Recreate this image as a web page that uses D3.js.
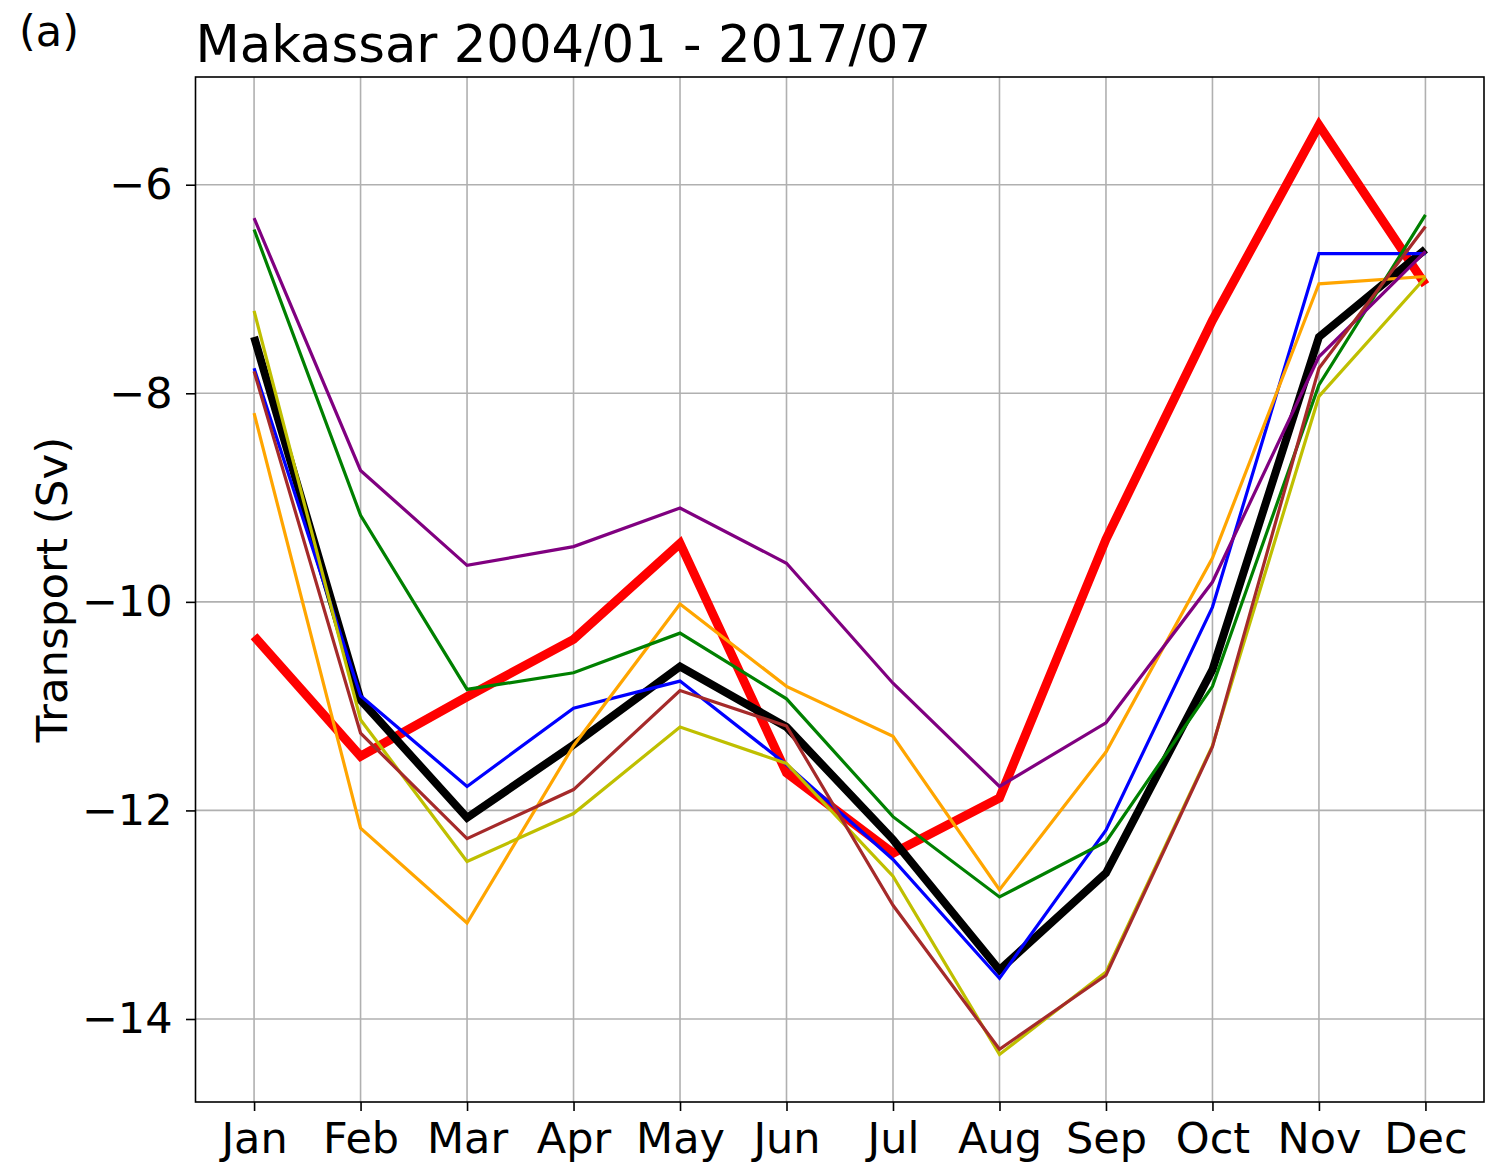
<!DOCTYPE html>
<html><head><meta charset="utf-8">
<script src="https://cdnjs.cloudflare.com/ajax/libs/d3/7.8.5/d3.min.js"></script>
<style>body{margin:0;background:#fff}svg{display:block}text{font-family:"DejaVu Sans",sans-serif;fill:#000}</style>
</head><body>
<script>
const months = ["Jan","Feb","Mar","Apr","May","Jun","Jul","Aug","Sep","Oct","Nov","Dec"];
const yTicks = [-14,-12,-10,-8,-6];
const title = "Makassar 2004/01 - 2017/07";
const panelLabel = "(a)";
const yLabel = "Transport (Sv)";

const redVals    = [-10.33,-11.48,-10.91,-10.36,-9.44,-11.64,-12.41,-11.88,-9.40,-7.30,-5.43,-6.96];
const blackVals  = [-7.46,-10.94,-12.07,-11.37,-10.62,-11.20,-12.28,-13.53,-12.60,-10.65,-7.46,-6.62];
const blueVals   = [-7.76,-10.90,-11.77,-11.02,-10.76,-11.56,-12.47,-13.61,-12.19,-10.05,-6.66,-6.66];
const orangeVals = [-8.19,-12.17,-13.08,-11.38,-10.02,-10.81,-11.29,-12.76,-11.44,-9.58,-6.95,-6.88];
const yellowVals = [-7.21,-11.13,-12.49,-12.03,-11.20,-11.55,-12.63,-14.34,-13.55,-11.38,-8.03,-6.89];
const greenVals  = [-6.43,-9.17,-10.84,-10.68,-10.30,-10.93,-12.06,-12.83,-12.30,-10.81,-7.92,-6.29];
const purpleVals = [-6.32,-8.74,-9.65,-9.47,-9.10,-9.63,-10.78,-11.77,-11.16,-9.81,-7.65,-6.64];
const brownVals  = [-7.79,-11.26,-12.27,-11.80,-10.85,-11.19,-12.91,-14.29,-13.58,-11.39,-7.76,-6.40];

const series = [
  {vals: redVals, color: "#ff0000", w: 9},
  {vals: blackVals, color: "#000000", w: 8},
  {vals: blueVals, color: "#0000ff", w: 3.2},
  {vals: orangeVals, color: "#ffa500", w: 3.2},
  {vals: yellowVals, color: "#bfbf00", w: 3.2},
  {vals: greenVals, color: "#008000", w: 3.2},
  {vals: purpleVals, color: "#800080", w: 3.2},
  {vals: brownVals, color: "#a52a2a", w: 3.2}
];

const W = 1485, H = 1165;
const L = 195.5, R = 1484, T = 77, B = 1102;
const svg = d3.select("body").append("svg").attr("width", W).attr("height", H);

const x = d3.scaleLinear().domain([-0.55, 11.55]).range([L, R]);
const y = d3.scaleLinear().domain([-14.796, -4.967]).range([B, T]);

// grid
const g = svg.append("g");
g.selectAll("line.vg").data(months).enter().append("line")
  .attr("x1", (d,i)=>x(i)).attr("x2", (d,i)=>x(i)).attr("y1", T).attr("y2", B)
  .attr("stroke", "#b0b0b0").attr("stroke-width", 1.6);
g.selectAll("line.hg").data(yTicks).enter().append("line")
  .attr("x1", L).attr("x2", R).attr("y1", d=>y(d)).attr("y2", d=>y(d))
  .attr("stroke", "#b0b0b0").attr("stroke-width", 1.6);

// lines
svg.append("clipPath").attr("id","clip").append("rect")
  .attr("x", L).attr("y", T).attr("width", R-L).attr("height", B-T);
const line = d3.line().x((d,i)=>x(i)).y(d=>y(d));
svg.append("g").attr("clip-path","url(#clip)").selectAll("path").data(series).enter().append("path")
  .attr("d", d=>line(d.vals)).attr("fill","none")
  .attr("stroke", d=>d.color).attr("stroke-width", d=>d.w)
  .attr("stroke-linejoin","miter").attr("stroke-linecap","butt");

// axes
const xAxis = d3.axisBottom(x).tickValues(d3.range(12)).tickFormat(i=>months[i]).tickSizeOuter(0).tickSize(9).tickPadding(11.5);
const yAxis = d3.axisLeft(y).tickValues(yTicks).tickFormat(d=>String(d).replace("-","\u2212")).tickSizeOuter(0).tickSize(9.5).tickPadding(13.5);
const gx = svg.append("g").attr("transform", `translate(0,${B})`).call(xAxis);
const gy = svg.append("g").attr("transform", `translate(${L},0)`).call(yAxis);
[gx, gy].forEach(a => {
  a.select(".domain").remove();
  a.selectAll(".tick line").attr("stroke","#000").attr("stroke-width",1.6);
  a.selectAll(".tick text").attr("font-size", 43).attr("font-family","DejaVu Sans").attr("fill","#000");
});

// frame
svg.append("rect").attr("x", L).attr("y", T).attr("width", R-L).attr("height", B-T)
  .attr("fill","none").attr("stroke","#000").attr("stroke-width",1.6);

// texts
svg.append("text").attr("x", L).attr("y", 62).attr("font-size", 51.3).text(title);
svg.append("text").attr("x", 19).attr("y", 46).attr("font-size", 43).text(panelLabel);
svg.append("text").attr("transform", `translate(66.5,${(T+B)/2}) rotate(-90)`)
  .attr("text-anchor","middle").attr("font-size", 43.5).text(yLabel);
</script>
</body></html>
